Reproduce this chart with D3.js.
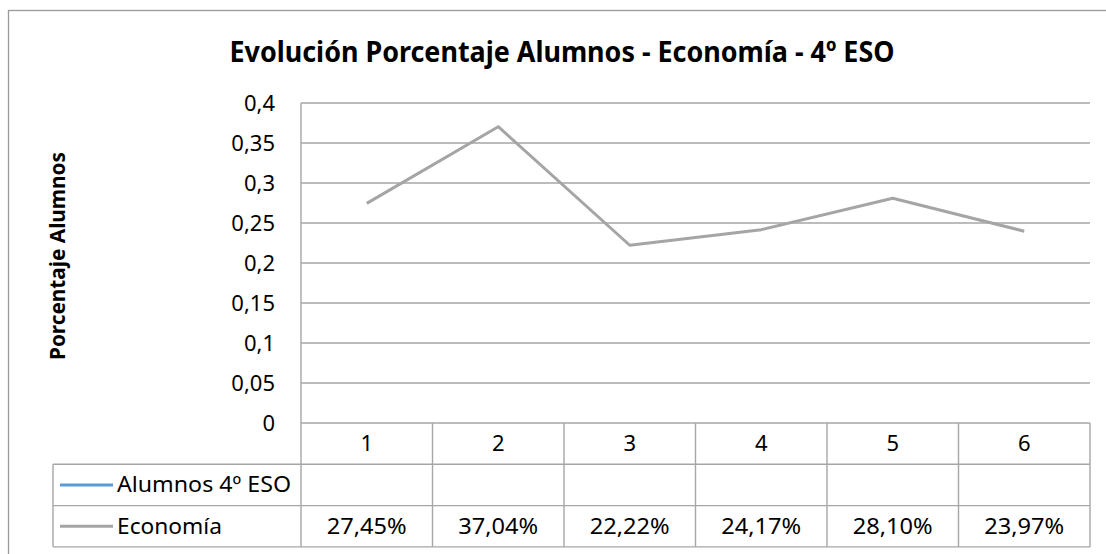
<!DOCTYPE html>
<html>
<head>
<meta charset="utf-8">
<script src="https://cdn.jsdelivr.net/npm/d3@7"></script>
<style>
  body { margin: 0; background: #fff; }
  svg { display: block; font-family: "Noto Sans", "Open Sans", sans-serif; }
</style>
</head>
<body>
<div class="chart"></div>
<script>
// Data
const categories = ['1', '2', '3', '4', '5', '6'];
const economia = [0.2745, 0.3704, 0.2222, 0.2417, 0.2810, 0.2397];
const economiaLabels = ['27,45%', '37,04%', '22,22%', '24,17%', '28,10%', '23,97%'];
const yTicks = [0, 0.05, 0.1, 0.15, 0.2, 0.25, 0.3, 0.35, 0.4];
const seriesNames = ['Alumnos 4º ESO', 'Economía'];
const seriesColors = ['#5b9bd5', '#a5a5a5'];

const width = 1106, height = 554;
const plot = {left: 301, right: 1090, top: 103, bottom: 423};
const rowH = 41.3;
const legendLeft = 53;
const gridColor = '#a6a6a6';

const svg = d3.select('.chart').append('svg')
  .attr('width', width).attr('height', height);

// outer chart border
svg.append('rect')
  .attr('x', 8.5).attr('y', 10.5)
  .attr('width', width + 10).attr('height', height + 10)
  .attr('fill', 'none').attr('stroke', '#999').attr('stroke-width', 1.3);

// title
svg.append('text')
  .attr('x', 562).attr('y', 62)
  .attr('text-anchor', 'middle')
  .attr('font-weight', 'bold').attr('font-size', 28)
  .attr('textLength', 665).attr('lengthAdjust', 'spacingAndGlyphs')
  .text('Evolución Porcentaje Alumnos - Economía - 4º ESO');

// y title
svg.append('text')
  .attr('transform', 'translate(65,256) rotate(-90)')
  .attr('text-anchor', 'middle')
  .attr('font-weight', 'bold').attr('font-size', 21)
  .attr('textLength', 208).attr('lengthAdjust', 'spacingAndGlyphs')
  .text('Porcentaje Alumnos');

// scales
const x = d3.scaleBand().domain(categories).range([plot.left, plot.right]);
const y = d3.scaleLinear().domain([0, 0.4]).range([plot.bottom, plot.top]);

// gridlines
svg.append('g').selectAll('line').data(yTicks.filter(d => d > 0)).join('line')
  .attr('x1', plot.left).attr('x2', plot.right)
  .attr('y1', d => y(d)).attr('y2', d => y(d))
  .attr('stroke', gridColor).attr('stroke-width', 1.4);

// y axis
const yAxis = d3.axisLeft(y).tickValues(yTicks)
  .tickFormat(d => String(+d.toFixed(2)).replace('.', ','))
  .tickSize(0).tickPadding(26);
const yAxisDraw = svg.append('g')
  .attr('transform', `translate(${plot.left},0)`)
  .call(yAxis);
yAxisDraw.select('.domain').remove();
yAxisDraw.selectAll('text')
  .attr('font-size', 22).attr('fill', '#000')
  .attr('font-family', '"Noto Sans", sans-serif');

// table
const rows = [plot.bottom, plot.bottom + rowH, plot.bottom + 2 * rowH, plot.bottom + 3 * rowH];
const table = svg.append('g').attr('stroke', gridColor).attr('stroke-width', 1.4);
// axis line + header row
table.append('line').attr('x1', plot.left).attr('x2', plot.right)
  .attr('y1', rows[0]).attr('y2', rows[0]);
[1, 2, 3].forEach(i => {
  table.append('line').attr('x1', legendLeft).attr('x2', plot.right)
    .attr('y1', rows[i]).attr('y2', rows[i]);
});
// vertical lines
table.append('line').attr('x1', plot.left).attr('x2', plot.left)
  .attr('y1', plot.top).attr('y2', rows[3]);
table.append('line').attr('x1', legendLeft).attr('x2', legendLeft)
  .attr('y1', rows[1]).attr('y2', rows[3]);
table.selectAll('.vcol').data(categories).join('line').attr('class', 'vcol')
  .attr('x1', d => x(d) + x.bandwidth()).attr('x2', d => x(d) + x.bandwidth())
  .attr('y1', rows[0]).attr('y2', rows[3]);

// header labels
svg.append('g').selectAll('text').data(categories).join('text')
  .attr('x', d => x(d) + x.bandwidth() / 2)
  .attr('y', rows[0] + 28)
  .attr('text-anchor', 'middle').attr('font-size', 22)
  .text(d => d);

// legend keys and names
const legend = svg.append('g').selectAll('g').data(seriesNames).join('g')
  .attr('transform', (d, i) => `translate(0,${rows[i + 1] + rowH / 2})`);
legend.append('line')
  .attr('x1', 60).attr('x2', 113).attr('y1', 0).attr('y2', 0)
  .attr('stroke', (d, i) => seriesColors[i]).attr('stroke-width', 3);
legend.append('text')
  .attr('x', 117).attr('y', 7.5)
  .attr('font-size', 22)
  .attr('textLength', (d, i) => i === 0 ? 174 : 105)
  .attr('lengthAdjust', 'spacingAndGlyphs')
  .text(d => d);

// data labels
svg.append('g').selectAll('text').data(economiaLabels).join('text')
  .attr('x', (d, i) => x(categories[i]) + x.bandwidth() / 2)
  .attr('y', rows[2] + 28)
  .attr('text-anchor', 'middle').attr('font-size', 22)
  .attr('textLength', 80).attr('lengthAdjust', 'spacingAndGlyphs')
  .text(d => d);

// line
const line = d3.line()
  .x((d, i) => x(categories[i]) + x.bandwidth() / 2)
  .y(d => y(d));
svg.append('path').datum(economia)
  .attr('d', line)
  .attr('fill', 'none')
  .attr('stroke', seriesColors[1])
  .attr('stroke-width', 3)
  .attr('stroke-linejoin', 'round');
</script>
</body>
</html>
